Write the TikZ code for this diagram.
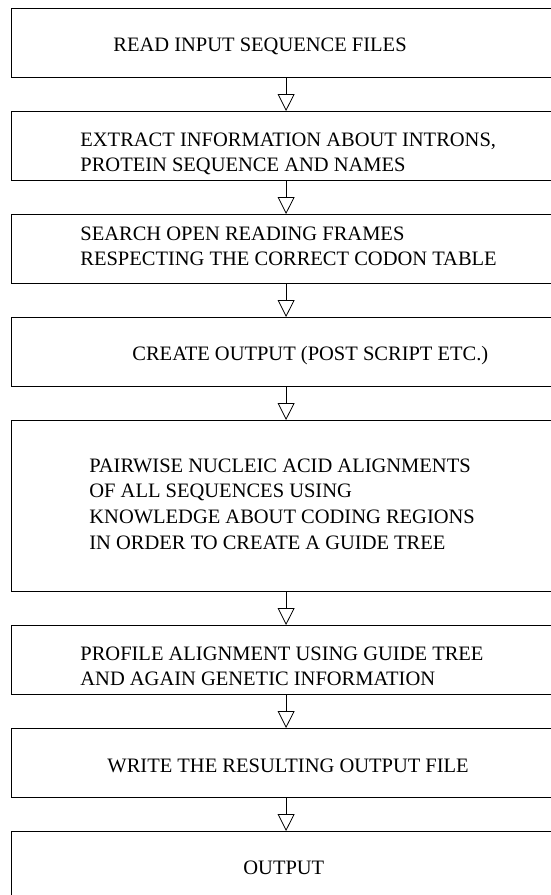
\documentclass[tikz,border=0pt]{standalone}
\usepackage{fontspec}
\setmainfont{Liberation Serif}
\usetikzlibrary{arrows.meta}

\begin{document}
\begin{tikzpicture}[x=1pt, y=1pt, line width=0.8pt,
    stage/.style={draw, anchor=north west, minimum width=549.4pt, inner sep=0pt},
    txt/.style ={anchor=north west, align=left, inner sep=0pt, font=\fontsize{20.5}{25.7}\selectfont},
    flow/.style={-{Triangle[open, length=17pt, width=17pt]}},
  ]
  \useasboundingbox (0,0) rectangle (551,-895);
  % processing stages, top to bottom
  \node[stage, minimum height=69pt]  (read)     at (11,-8)   {};
  \node[stage, minimum height=69pt]  (extract)  at (11,-111) {};
  \node[stage, minimum height=69pt]  (orf)      at (11,-214) {};
  \node[stage, minimum height=69pt]  (create)   at (11,-317) {};
  \node[stage, minimum height=171pt] (pairwise) at (11,-420) {};
  \node[stage, minimum height=69pt]  (profile)  at (11,-625) {};
  \node[stage, minimum height=69pt]  (write)    at (11,-728) {};
  \node[stage, minimum height=69pt]  (output)   at (11,-831) {};

  % stage texts
  \node[txt] (readtxt)     at ([xshift=102pt,yshift=-29.7pt]read.north west) {READ INPUT SEQUENCE FILES};
  \node[txt] (extracttxt)  at ([xshift=69pt,yshift=-21.2pt]extract.north west)
    {EXTRACT INFORMATION ABOUT INTRONS,\\ PROTEIN SEQUENCE AND NAMES};
  \node[txt] (orftxt)      at ([xshift=69pt,yshift=-12.2pt]orf.north west)
    {SEARCH OPEN READING FRAMES\\ RESPECTING THE CORRECT CODON TABLE};
  \node[txt] (createtxt)   at ([xshift=121pt,yshift=-29.2pt]create.north west) {CREATE OUTPUT (POST SCRIPT ETC.)};
  \node[txt] (pairwisetxt) at ([xshift=78pt,yshift=-38.2pt]pairwise.north west)
    {PAIRWISE NUCLEIC ACID ALIGNMENTS\\ OF ALL SEQUENCES USING\\ KNOWLEDGE ABOUT CODING REGIONS\\ IN ORDER TO CREATE A GUIDE TREE};
  \node[txt] (profiletxt)  at ([xshift=69pt,yshift=-21.2pt]profile.north west)
    {PROFILE ALIGNMENT USING GUIDE TREE\\ AND AGAIN GENETIC INFORMATION};
  \node[txt] (writetxt)    at ([xshift=96pt,yshift=-30.2pt]write.north west) {WRITE THE RESULTING OUTPUT FILE};
  \node[txt] (outputtxt)   at ([xshift=232pt,yshift=-29.2pt]output.north west) {OUTPUT};

  % flow between stages
  \draw[flow] (read) -- (extract);
  \draw[flow] (extract) -- (orf);
  \draw[flow] (orf) -- (create);
  \draw[flow] (create) -- (pairwise);
  \draw[flow] (pairwise) -- (profile);
  \draw[flow] (profile) -- (write);
  \draw[flow] (write) -- (output);
\end{tikzpicture}
\end{document}
